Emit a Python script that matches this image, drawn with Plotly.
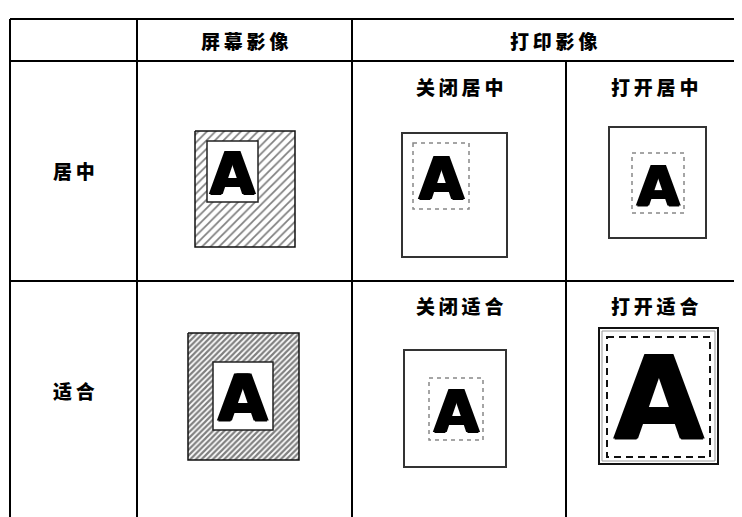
import plotly.graph_objects as go

# ---- table content ----
col_headers = ["屏幕影像", "打印影像"]
row_labels = ["居中", "适合"]
sub_headers = [["关闭居中", "打开居中"], ["关闭适合", "打开适合"]]
glyph = "A"

# ---- layout geometry (page pixels) ----
W, H = 742, 517
OFF = 8  # page body margin
col_x = [10, 137, 352, 566]
top_y, head_y, row_y = 19, 61, 281
row_center = [170, 390]
sub_y = [86, 305]

SP = "\u2009"
def spaced(s):
    return SP.join(list(s))

CJK = "Noto Sans CJK SC"
fig = go.Figure()
shapes = []
ann = []

def line(x0, y0, x1, y1, w=2, color="black", dash="solid"):
    shapes.append(dict(type="line", x0=x0, y0=y0, x1=x1, y1=y1, layer="above",
                       line=dict(color=color, width=w, dash=dash)))

def rect(x0, y0, x1, y1, w=2, color="#333", fill="white", dash="solid"):
    shapes.append(dict(type="rect", x0=x0, y0=y0, x1=x1, y1=y1, layer="above",
                       fillcolor=fill, line=dict(color=color, width=w, dash=dash)))

def text(x, y, s, size=19, font=CJK, color="black", shadow=None, weight=900):
    f = dict(family=font, size=size, color=color, weight=weight)
    if shadow:
        f["shadow"] = shadow
    ann.append(dict(x=x, y=y, xref="x", yref="y", text=s, showarrow=False,
                    xanchor="center", yanchor="middle", font=f))

def letter(x0, y0, x1, y1, size, dy=None):
    if dy is None:
        dy = size * 0.05
    text((x0 + x1) / 2, (y0 + y1) / 2 + dy, glyph, size=size,
         font="DejaVu Sans", weight="bold",
         shadow="1.5px 0 0 #000, -1.5px 0 0 #000, 0 1px 0 #000")

def hatched(x0, y0, x1, y1, size, solidity, fg):
    fig.add_trace(go.Scatter(x=[x0, x1, x1, x0, x0], y=[y0, y0, y1, y1, y0],
                             mode="lines", fill="toself",
                             line=dict(color="#111", width=1.5),
                             fillcolor="white",
                             fillpattern=dict(shape="/", fgcolor=fg, bgcolor="white",
                                              size=size, solidity=solidity),
                             hoverinfo="skip", showlegend=False))

# ---- table grid ----
line(col_x[0], top_y, W + 20, top_y)
line(col_x[0], head_y, W + 20, head_y)
line(col_x[0], row_y, W + 20, row_y)
for i, x in enumerate(col_x):
    line(x, top_y if i < 3 else head_y, x, H + 20)

# ---- headers ----
text((col_x[1] + col_x[2]) / 2, 40, spaced(col_headers[0]))
text(553, 40, spaced(col_headers[1]))
for r in range(2):
    text((col_x[0] + col_x[1]) / 2, row_center[r], spaced(row_labels[r]))
    text((col_x[2] + col_x[3]) / 2, sub_y[r], spaced(sub_headers[r][0]))
    text(654, sub_y[r], spaced(sub_headers[r][1]))

# ---- row 1 pictures ----
hatched(195, 131, 295, 247, 6, 0.28, "#000")
rect(207, 141, 258, 202, w=1.5, color="#222")
letter(207, 141, 258, 202, 58)

rect(402, 133, 507, 257, w=2, color="#333")
rect(413, 143, 469, 209, w=1.5, color="#888", fill="rgba(0,0,0,0)", dash="4px,4px")
letter(413, 143, 469, 209, 58)

rect(609, 127, 706, 238, w=2, color="#333")
rect(632, 153, 684, 213, w=1.5, color="#888", fill="rgba(0,0,0,0)", dash="4px,4px")
letter(632, 153, 684, 213, 55)

# ---- row 2 pictures ----
hatched(188, 333, 299, 460, 4, 0.55, "#000")
rect(213, 362, 273, 430, w=1.5, color="#222")
letter(213, 362, 273, 430, 64)

rect(404, 350, 506, 467, w=2, color="#333")
rect(429, 378, 483, 440, w=1.5, color="#888", fill="rgba(0,0,0,0)", dash="4px,4px")
letter(429, 378, 483, 440, 58)

rect(599, 328, 718, 464, w=2, color="#111")
rect(602, 331, 715, 461, w=1, color="#999", fill="rgba(0,0,0,0)")
rect(607, 337, 710, 457, w=2, color="#111", fill="rgba(0,0,0,0)", dash="7px,5px")
letter(607, 337, 710, 457, 116, dy=0)

fig.update_layout(
    width=W, height=H, margin=dict(l=0, r=0, t=0, b=0),
    paper_bgcolor="white", plot_bgcolor="white",
    xaxis=dict(range=[OFF, W + OFF], visible=False, fixedrange=True),
    yaxis=dict(range=[H + OFF, OFF], visible=False, fixedrange=True),
    shapes=shapes, annotations=ann, showlegend=False,
)
fig.write_html("out.html")
